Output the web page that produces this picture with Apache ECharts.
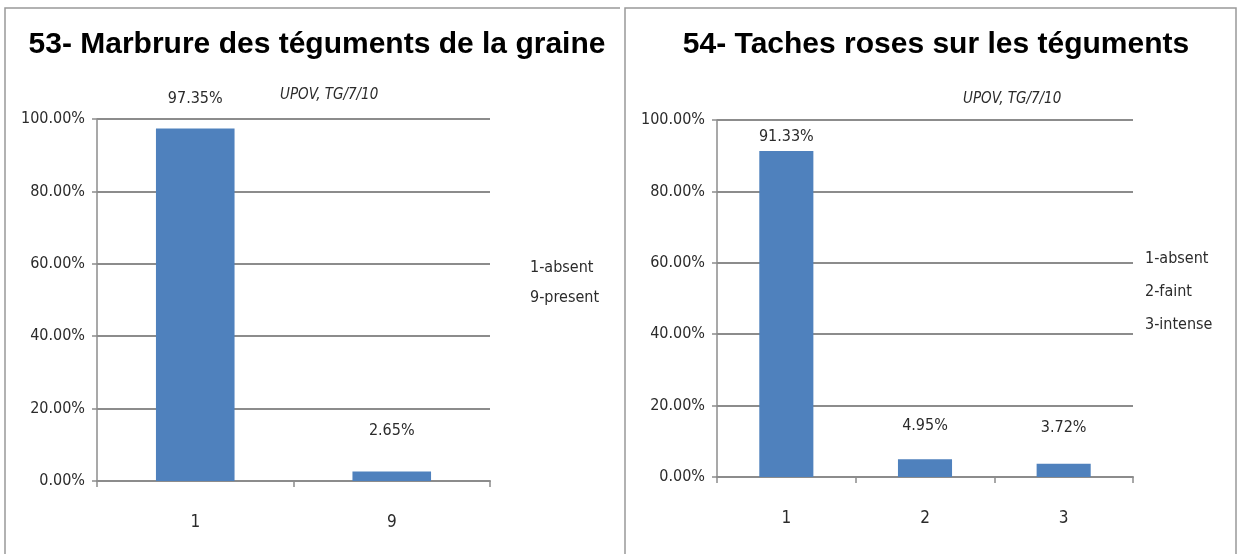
<!DOCTYPE html>
<html>
<head>
<meta charset="utf-8">
<script src="https://cdn.jsdelivr.net/npm/echarts@6/dist/echarts.min.js"></script>
<style>
  html, body { margin: 0; padding: 0; background: #fff; }
  #chart { width: 1238px; height: 554px; }
</style>
</head>
<body>
<div id="chart"></div>
<script>
// chart 53
const catsA = ["1", "9"];
const valsA = [97.35, 2.65];
const legendA = ["1-absent", "9-present"];
// chart 54
const catsB = ["1", "2", "3"];
const valsB = [91.33, 4.95, 3.72];
const legendB = ["1-absent", "2-faint", "3-intense"];

// label gaps above bars (style only)
const gapA = [22, 33];
const gapB = [6, 25, 28];

const BAR = "#4f81bd";
const GRID = "#8c8c8c";
const TXT = "#2b2b2b";
const NARROW = "'DejaVu Sans Condensed', 'Liberation Sans Narrow', sans-serif";

function yAxis(gridIndex) {
  return {
    type: "value", gridIndex, min: 0, max: 100, interval: 20,
    axisLine: {show: true, lineStyle: {color: GRID, width: 1.5}},
    axisTick: {show: true, length: 5, lineStyle: {color: GRID, width: 1.5}},
    splitLine: {lineStyle: {color: GRID, width: 2}},
    axisLabel: {
      color: TXT, fontFamily: NARROW, fontSize: 16, margin: 12,
      formatter: v => v.toFixed(2) + "%"
    }
  };
}

function xAxis(gridIndex, cats) {
  return {
    type: "category", gridIndex, data: cats,
    axisLine: {lineStyle: {color: GRID, width: 2}},
    axisTick: {show: true, length: 6, lineStyle: {color: GRID, width: 1.5}},
    axisLabel: {color: TXT, fontFamily: NARROW, fontSize: 17, margin: 33}
  };
}

function barSeries(idx, vals, gaps, width) {
  return {
    type: "bar", xAxisIndex: idx, yAxisIndex: idx, barWidth: width,
    itemStyle: {color: BAR},
    data: vals.map((v, i) => ({
      value: v,
      label: {
        show: true, position: "top", distance: gaps[i],
        color: TXT, fontFamily: NARROW, fontSize: 16,
        formatter: p => p.value.toFixed(2) + "%"
      }
    }))
  };
}

function legendText(x, y0, step, items) {
  return items.map((t, i) => ({
    type: "text", left: x, top: y0 + i * step,
    style: {text: t, fill: TXT, font: "16px " + NARROW}
  }));
}

const chart = echarts.init(document.getElementById("chart"));
chart.setOption({
  animation: false,
  title: [
    {text: "53- Marbrure des téguments de la graine", left: 312, top: 25, textAlign: "center",
      textStyle: {fontFamily: "'Liberation Sans', Arial, sans-serif", fontWeight: "bold", fontSize: 30, color: "#000"}},
    {text: "54- Taches roses sur les téguments", left: 931, top: 25, textAlign: "center",
      textStyle: {fontFamily: "'Liberation Sans', Arial, sans-serif", fontWeight: "bold", fontSize: 30, color: "#000"}}
  ],
  grid: [
    {left: 97, top: 119, width: 393, height: 362},
    {left: 717, top: 120, width: 416, height: 357}
  ],
  xAxis: [xAxis(0, catsA), xAxis(1, catsB)],
  yAxis: [yAxis(0), yAxis(1)],
  series: [
    barSeries(0, valsA, gapA, "40%"),
    barSeries(1, valsB, gapB, "39%")
  ],
  graphic: [
    {type: "polyline", shape: {points: [[5, 554], [5, 8], [620, 8]]}, style: {stroke: "#999", lineWidth: 1.5, fill: null}},
    {type: "polyline", shape: {points: [[625, 554], [625, 8], [1236, 8], [1236, 554]]}, style: {stroke: "#999", lineWidth: 1.5, fill: null}},
    {type: "text", left: 280, top: 88, style: {text: "UPOV, TG/7/10", fill: TXT, font: "italic 15px " + NARROW}},
    {type: "text", left: 963, top: 92, style: {text: "UPOV, TG/7/10", fill: TXT, font: "italic 15px " + NARROW}},
    ...legendText(530, 260, 30, legendA),
    ...legendText(1145, 251, 33, legendB)
  ]
});
</script>
</body>
</html>
